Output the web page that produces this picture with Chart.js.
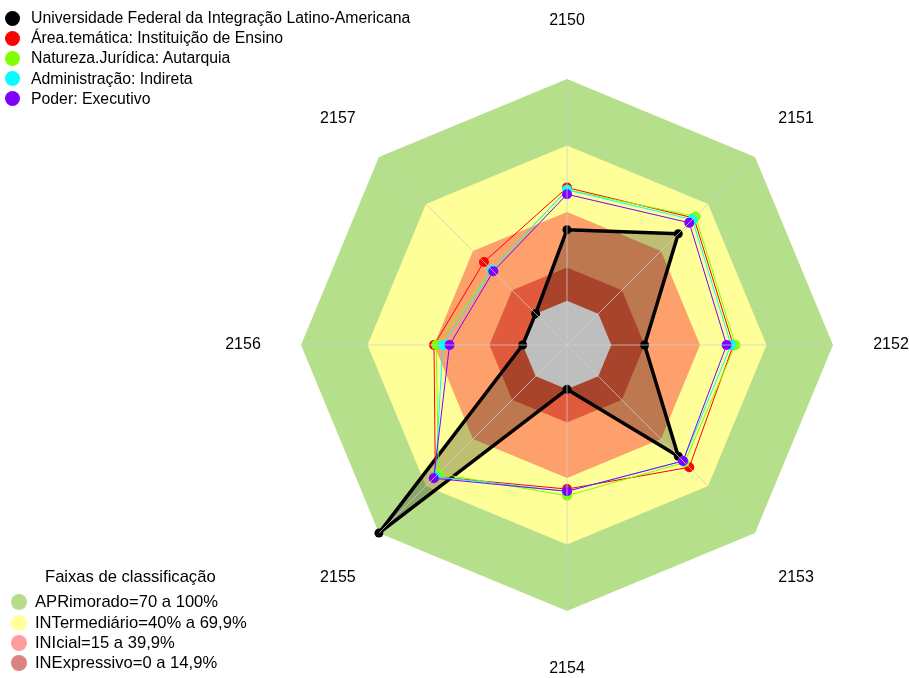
<!DOCTYPE html>
<html>
<head>
<meta charset="utf-8">
<script src="https://cdn.jsdelivr.net/npm/chart.js@4/dist/chart.umd.min.js"></script>
<style>
  body { margin: 0; background: #fff; font-family: "Liberation Sans", Arial, sans-serif; }
  #wrap { position: relative; width: 909px; height: 678px; }
  canvas { position: absolute; left: 0; top: 0; }
  .leg { position: absolute; left: 0; color: #000; white-space: nowrap; }
  .row { display: flex; align-items: center; }
  .dot { display: inline-block; border-radius: 50%; flex: none; }
  #legSeries { top: 8px; font-size: 15.8px; line-height: 20.2px; }
  #legSeries .dot { width: 15px; height: 15px; margin: 0 11px 0 5px; }
  #legFaixas { top: 567px; font-size: 16.6px; line-height: 20.3px; }
  #legFaixas .titulo { margin-left: 45px; margin-bottom: 5px; }
  #legFaixas .dot { width: 16px; height: 16px; margin: 0 8px 0 11px; }
</style>
</head>
<body>
<div id="wrap">
  <canvas id="radar" width="909" height="678"></canvas>
  <div class="leg" id="legSeries"></div>
  <div class="leg" id="legFaixas"><div class="titulo">Faixas de classificação</div></div>
</div>
<script>
// eixos (indicadores)
const labels = ["2150", "2151", "2152", "2153", "2154", "2155", "2156", "2157"];

// séries (0-100)
const serieNomes = [
  "Universidade Federal da Integração Latino-Americana",
  "Área.temática: Instituição de Ensino",
  "Natureza.Jurídica: Autarquia",
  "Administração: Indireta",
  "Poder: Executivo"
];
const serieCores = ["#000000", "#ff0000", "#7fff00", "#00ffff", "#7f00ff"];
const universidade = [32, 51, 15, 51, 0, 100, 0, 0];
const areaTematica = [51, 61, 55, 58, 45, 64, 40, 33];
const naturezaJur  = [50, 62, 56, 55, 48, 62, 39, 28];
const administracao = [50, 60, 54, 54, 46, 64, 36, 28];
const poderExec    = [48, 58, 52, 54, 46, 65, 33, 27];

// faixas de classificação
const faixaNomes = ["APRimorado=70 a 100%", "INTermediário=40% a 69,9%", "INIcial=15 a 39,9%", "INExpressivo=0 a 14,9%"];
const faixaLimites = [100, 70, 40, 15, 0];
const faixaCores = ["#b6df8b", "#ffff99", "#fda06b", "#e05a3b", "#bebebe"];
const faixaLegendaCores = ["#b5dd8b", "#ffff9c", "#ff9d9d", "#dc8282"];

const serieValores = [universidade, areaTematica, naturezaJur, administracao, poderExec];

const datasets = [];
serieValores.forEach((vals, i) => {
  const principal = i === 0;
  datasets.push({
    label: serieNomes[i],
    data: vals,
    borderColor: serieCores[i],
    borderWidth: principal ? 3.5 : 1,
    borderJoinStyle: "round",
    pointRadius: principal ? 4.5 : 5,
    pointBackgroundColor: serieCores[i],
    pointBorderWidth: 0,
    backgroundColor: principal ? "rgba(0,0,0,0.25)" : "transparent",
    fill: principal ? { value: 0 } : false,
    order: 5 - i
  });
});
faixaLimites.forEach((lim, i) => {
  datasets.push({
    label: "faixa" + i,
    data: labels.map(() => lim),
    borderWidth: 0,
    borderColor: "transparent",
    pointRadius: 0,
    backgroundColor: faixaCores[i],
    fill: "start",
    order: 10 - i
  });
});

// rótulos dos eixos desenhados na posição da própria escala
const rotulosEixos = {
  id: "rotulosEixos",
  afterDraw(chart) {
    const sc = chart.scales.r;
    const ctx = chart.ctx;
    ctx.save();
    ctx.font = '16px "Liberation Sans", Arial, sans-serif';
    ctx.fillStyle = "#000";
    ctx.textAlign = "center";
    ctx.textBaseline = "middle";
    labels.forEach((lab, i) => {
      const p = sc.getPointPosition(i, sc.drawingArea + 58);
      const ajuste = (i % 2 === 1) ? 3 : 0; // diagonais um pouco mais baixas
      ctx.fillText(lab, p.x, p.y + ajuste);
    });
    ctx.restore();
  }
};

new Chart(document.getElementById("radar"), {
  type: "radar",
  data: { labels, datasets },
  plugins: [rotulosEixos],
  options: {
    responsive: false,
    animation: false,
    layout: { padding: { left: 301, right: 76, top: 79, bottom: 67 } },
    plugins: { legend: { display: false }, tooltip: { enabled: false } },
    elements: { line: { tension: 0 } },
    scales: {
      r: {
        min: -20,
        max: 100,
        ticks: { display: false },
        pointLabels: { display: false },
        grid: { display: false, z: 1 },
        angleLines: { display: true, color: "rgba(205,205,205,0.75)", lineWidth: 1 }
      }
    }
  }
});

// legendas em HTML
const legS = document.getElementById("legSeries");
serieNomes.forEach((n, i) => {
  legS.innerHTML += `<div class="row"><span class="dot" style="background:${serieCores[i]}"></span>${n}</div>`;
});
const legF = document.getElementById("legFaixas");
faixaNomes.forEach((n, i) => {
  legF.innerHTML += `<div class="row"><span class="dot" style="background:${faixaLegendaCores[i]}"></span>${n}</div>`;
});
</script>
</body>
</html>
